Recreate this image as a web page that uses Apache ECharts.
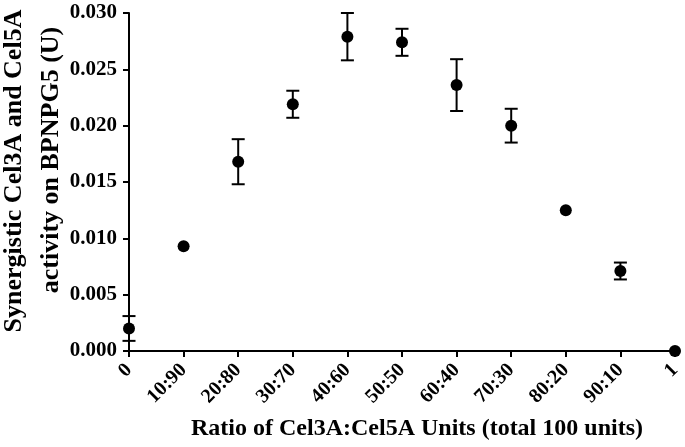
<!DOCTYPE html>
<html>
<head>
<meta charset="utf-8">
<script src="https://cdn.jsdelivr.net/npm/echarts@6/dist/echarts.min.js"></script>
<style>
  html, body { margin: 0; padding: 0; background: #fff; }
</style>
</head>
<body>
<div id="chart" style="width: 685px; height: 447px"></div>
<script>
// ratio categories (Cel3A:Cel5A)
const categories = ['0', '10:90', '20:80', '30:70', '40:60', '50:50', '60:40', '70:30', '80:20', '90:10', '1'];
// synergistic activity (U)
const activity = [0.0020, 0.0093, 0.0168, 0.0219, 0.0279, 0.0274, 0.0236, 0.0200, 0.0125, 0.0071, 0.0000];
// +/- error, 0 means no bar drawn
const errors = [0.0011, 0, 0.0020, 0.0012, 0.0021, 0.0012, 0.0023, 0.0015, 0, 0.00075, 0];
const yTicks = [0, 0.005, 0.010, 0.015, 0.020, 0.025, 0.030];

const font = 'Liberation Serif';

let errData = [];
categories.forEach((c, i) => {
  if (errors[i] > 0) {
    errData.push([i, activity[i] - errors[i], activity[i] + errors[i]]);
  }
});

let myChart = echarts.init(document.getElementById('chart'));

myChart.setOption({
  animation: false,
  grid: {
    left: 129,
    right: 10,
    top: 13,
    bottom: 96,
    outerBoundsMode: 'none'
  },
  xAxis: {
    type: 'category',
    data: categories,
    boundaryGap: false,
    name: 'Ratio of Cel3A:Cel5A Units (total 100 units)',
    nameLocation: 'middle',
    nameGap: 66,
    nameTextStyle: {
      fontFamily: font,
      fontWeight: 'bold',
      fontSize: 24,
      color: '#000',
      padding: [0, 0, 0, 30]
    },
    axisLine: { lineStyle: { color: '#000', width: 2 } },
    axisTick: { alignWithLabel: true, length: 6, lineStyle: { color: '#000', width: 2 } },
    axisLabel: {
      rotate: 45,
      margin: 16,
      interval: 0,
      fontFamily: font,
      fontWeight: 'bold',
      fontSize: 20,
      color: '#000'
    },
    splitLine: { show: false }
  },
  yAxis: {
    type: 'value',
    min: yTicks[0],
    max: yTicks[yTicks.length - 1],
    interval: 0.005,
    name: '{a|Synergistic Cel3A and Cel5A}\n{b|activity on BPNPG5 (U)}',
    nameLocation: 'middle',
    nameRotate: 90,
    nameGap: 59,
    nameMoveOverlap: false,
    nameTextStyle: {
      fontFamily: font,
      fontWeight: 'bold',
      fontSize: 26,
      lineHeight: 37,
      color: '#000',
      padding: [0, 0, 0, 22],
      rich: {
        a: { fontFamily: font, fontWeight: 'bold', fontSize: 26, lineHeight: 37, color: '#000' },
        b: { fontFamily: font, fontWeight: 'bold', fontSize: 26, lineHeight: 37, color: '#000', padding: [0, 0, 0, 22] }
      }
    },
    axisLine: { show: true, lineStyle: { color: '#000', width: 2 } },
    axisTick: { show: true, length: 6, lineStyle: { color: '#000', width: 2 } },
    axisLabel: {
      margin: 12,
      fontFamily: font,
      fontWeight: 'bold',
      fontSize: 21,
      color: '#000',
      formatter: v => v.toFixed(3)
    },
    splitLine: { show: false }
  },
  series: [
    {
      type: 'custom',
      data: errData,
      clip: false,
      z: 2,
      renderItem: function (params, api) {
        let x = api.value(0);
        let lo = api.coord([x, api.value(1)]);
        let hi = api.coord([x, api.value(2)]);
        let w = 6.5;
        let style = { stroke: '#000', lineWidth: 2 };
        return {
          type: 'group',
          children: [
            { type: 'line', shape: { x1: hi[0], y1: hi[1], x2: lo[0], y2: lo[1] }, style: style },
            { type: 'line', shape: { x1: hi[0] - w, y1: hi[1], x2: hi[0] + w, y2: hi[1] }, style: style },
            { type: 'line', shape: { x1: lo[0] - w, y1: lo[1], x2: lo[0] + w, y2: lo[1] }, style: style }
          ]
        };
      }
    },
    {
      type: 'scatter',
      data: activity,
      symbol: 'circle',
      symbolSize: 12,
      clip: false,
      z: 3,
      itemStyle: { color: '#000', opacity: 1 }
    }
  ]
});
</script>
</body>
</html>
